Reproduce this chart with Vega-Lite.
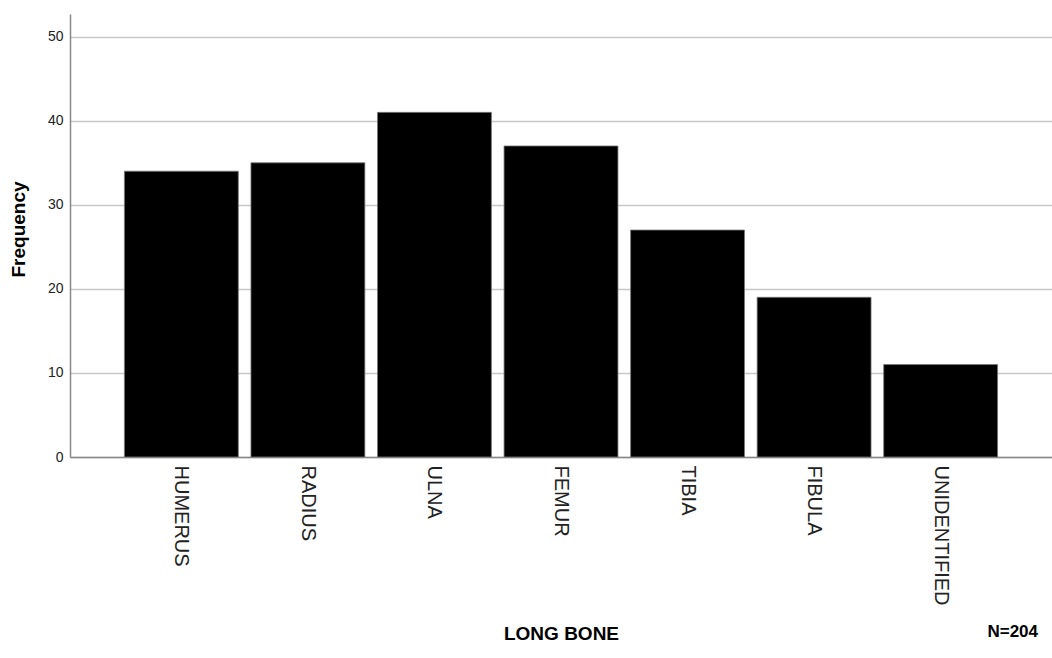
{
  "$schema": "https://vega.github.io/schema/vega-lite/v6.json",
  "width": 982,
  "height": 443,
  "autosize": "none",
  "padding": {"left": 70, "top": 14, "right": 0, "bottom": 201},
  "background": "white",
  "config": {
    "font": "Liberation Sans",
    "view": {"stroke": null}
  },
  "title": {
    "text": "N=204",
    "orient": "bottom",
    "anchor": "end",
    "frame": "group",
    "fontSize": 17,
    "fontWeight": "bold",
    "color": "#000000",
    "offset": -19,
    "dx": -14
  },
  "data": {
    "values": [
      {"bone": "HUMERUS", "frequency": 34},
      {"bone": "RADIUS", "frequency": 35},
      {"bone": "ULNA", "frequency": 41},
      {"bone": "FEMUR", "frequency": 37},
      {"bone": "TIBIA", "frequency": 27},
      {"bone": "FIBULA", "frequency": 19},
      {"bone": "UNIDENTIFIED", "frequency": 11}
    ]
  },
  "mark": {"type": "bar", "fill": "#000000", "stroke": "#777777", "strokeWidth": 0.8},
  "encoding": {
    "x": {
      "field": "bone",
      "type": "nominal",
      "sort": null,
      "scale": {"paddingInner": 0.1, "paddingOuter": 0.43},
      "axis": {
        "title": "LONG BONE",
        "titleFontSize": 19,
        "titleFontWeight": "bold",
        "titleColor": "#000000",
        "titleY": 176,
        "titleBaseline": "middle",
        "labelAngle": 90,
        "labelAlign": "left",
        "labelBaseline": "middle",
        "labelFontSize": 20,
        "labelColor": "#222222",
        "labelPadding": 8,
        "ticks": false,
        "domainColor": "#888888",
        "domainWidth": 1.5,
        "grid": false
      }
    },
    "y": {
      "field": "frequency",
      "type": "quantitative",
      "scale": {"domain": [0, 52.7], "nice": false},
      "axis": {
        "title": "Frequency",
        "titleFontSize": 19,
        "titleFontWeight": "bold",
        "titleColor": "#000000",
        "titleAngle": -90,
        "titleX": -52,
        "titleY": 215,
        "titleAlign": "center",
        "titleBaseline": "middle",
        "values": [0, 10, 20, 30, 40, 50],
        "labelFontSize": 14,
        "labelColor": "#222222",
        "labelPadding": 7,
        "ticks": false,
        "domainColor": "#888888",
        "domainWidth": 1.5,
        "grid": true,
        "gridColor": "#c8c8c8",
        "gridWidth": 1.5
      }
    }
  }
}
